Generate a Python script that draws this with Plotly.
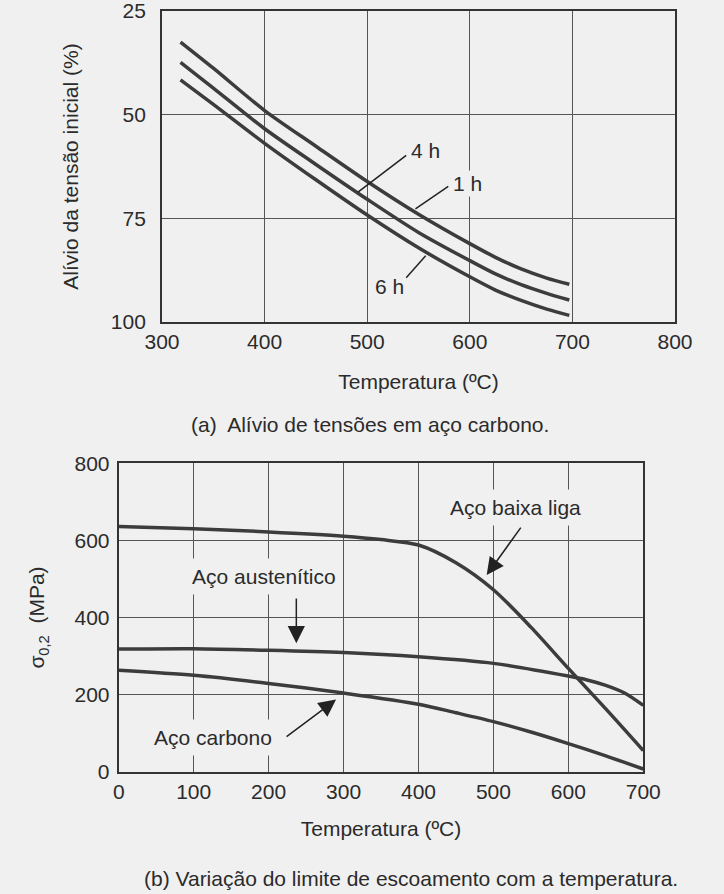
import plotly.graph_objects as go

# (a) stress relief in carbon steel, % of initial stress vs temperature
temp_a = [318, 350, 400, 450, 500, 550, 600, 625, 650, 675, 697]
alivio_1h = [32.5, 38.8, 49.0, 57.6, 66.1, 74.0, 81.1, 84.4, 87.2, 89.4, 90.9]
alivio_4h = [37.4, 43.6, 53.4, 62.0, 70.4, 78.4, 85.2, 88.4, 91.0, 93.1, 94.7]
alivio_6h = [41.6, 47.5, 56.9, 65.7, 74.2, 82.1, 89.1, 92.3, 94.8, 96.9, 98.4]

# (b) yield strength sigma 0.2 (MPa) vs temperature
temp_baixa = [0, 100, 200, 300, 350, 400, 450, 500, 550, 600, 650, 700]
baixa_liga = [636, 630, 622, 611, 602, 588, 542, 472, 375, 268, 163, 55]
temp_aust = [0, 100, 200, 300, 400, 500, 600, 625, 650, 675, 700]
austenitico = [318, 319, 315, 309, 298, 281, 248, 238, 224, 204, 172]
temp_carb = [0, 100, 200, 300, 400, 450, 500, 550, 600, 650, 700]
carbono = [263, 250, 229, 204, 175, 153, 130, 103, 73, 41, 7]

FONT = "Liberation Sans, Arial, sans-serif"
BG = "#f0f0f0"
INK = "#333333"
TXT = "#2b2b2b"
CURVE = "#3c3c3c"

fig = go.Figure()

for ys in (alivio_1h, alivio_4h, alivio_6h):
    fig.add_trace(go.Scatter(x=temp_a, y=ys, mode="lines",
                             line=dict(color=CURVE, width=3.5, shape="spline", smoothing=0.8),
                             xaxis="x", yaxis="y", showlegend=False, hoverinfo="skip"))

for xs, ys in ((temp_baixa, baixa_liga), (temp_aust, austenitico), (temp_carb, carbono)):
    fig.add_trace(go.Scatter(x=xs, y=ys, mode="lines",
                             line=dict(color=CURVE, width=3.5, shape="spline", smoothing=0.8),
                             xaxis="x2", yaxis="y2", showlegend=False, hoverinfo="skip"))

axis_common = dict(showline=True, linecolor=INK, linewidth=2, mirror=True, ticks="", automargin=False,
                   showgrid=True, gridcolor="#555555", gridwidth=1, zeroline=False,
                   ticklabeloverflow="allow", tickfont=dict(family=FONT, size=21, color=TXT))
title_font = dict(family=FONT, size=21, color=TXT)

fig.update_layout(
    width=724, height=894,
    paper_bgcolor=BG, plot_bgcolor=BG,
    margin=dict(l=0, r=0, t=0, b=0),
    font=dict(family=FONT, size=21, color=TXT),
    xaxis=dict(domain=[0.2238, 0.9323], range=[300, 800], tickvals=[300, 400, 500, 600, 700, 800],
               title=dict(text="Temperatura (ºC)", standoff=22, font=title_font), anchor="y", **axis_common),
    yaxis=dict(domain=[0.6398, 0.9877], range=[100, 25], tickvals=[25, 50, 75, 100],
               title=dict(text="Alívio da tensão inicial (%)", standoff=26, font=title_font), anchor="x",
               ticklabelstandoff=10, **axis_common),
    xaxis2=dict(domain=[0.1640, 0.8885], range=[0, 700], tickvals=[0, 100, 200, 300, 400, 500, 600, 700],
                title=dict(text="Temperatura (ºC)", standoff=19, font=title_font), anchor="y2", **axis_common),
    yaxis2=dict(domain=[0.1368, 0.4818], range=[0, 800], tickvals=[0, 200, 400, 600, 800],
                title=dict(text="σ<sub>0,2</sub>  (MPa)", standoff=24, font=title_font), anchor="x2",
                ticklabelstandoff=3, **axis_common),
)

# leader lines for the hold times
leaders = [((538, 59.8), (491, 68.7)), ((579, 67.3), (547, 72.7)), ((538, 89.3), (557, 84.0))]
for (x0, y0), (x1, y1) in leaders:
    fig.add_shape(type="line", xref="x", yref="y", x0=x0, y0=y0, x1=x1, y1=y1,
                  line=dict(color="#222222", width=1.5))

labels_a = [("4 h", 557, 58.6), ("1 h", 598, 66.7), ("6 h", 522, 91.5)]
for txt, x, y in labels_a:
    fig.add_annotation(text=txt, x=x, y=y, xref="x", yref="y", showarrow=False, font=dict(size=21),
                       bgcolor=BG, borderpad=1)

labels_b = [("Aço baixa liga", 529, 685), ("Aço austenítico", 194, 507), ("Aço carbono", 126, 88)]
for txt, x, y in labels_b:
    fig.add_annotation(text=txt, x=x, y=y, xref="x2", yref="y2", showarrow=False, font=dict(size=21),
                       bgcolor=BG, borderpad=6)

arrows_b = [((538, 637), (491, 510)), ((237, 453), (237, 333)), ((222, 88), (290, 187))]
for (tx, ty), (hx, hy) in arrows_b:
    fig.add_annotation(text="", x=hx, y=hy, ax=tx, ay=ty, xref="x2", yref="y2", axref="x2", ayref="y2",
                       showarrow=True, arrowhead=2, arrowsize=2.3, arrowwidth=1.5, arrowcolor="#222222")

fig.add_annotation(text="(a)  Alívio de tensões em aço carbono.", x=0.511, y=(894 - 425) / 894,
                   xref="paper", yref="paper", xanchor="center", yanchor="middle", showarrow=False,
                   font=dict(size=21))
fig.add_annotation(text="(b) Variação do limite de escoamento com a temperatura.", x=0.567, y=(894 - 878) / 894,
                   xref="paper", yref="paper", xanchor="center", yanchor="middle", showarrow=False,
                   font=dict(size=21))

# page body has a default 8px margin; drop it so the figure fills the window
fig.write_html("out.html", config={"displayModeBar": False},
               post_script="document.body.style.margin='0';")
